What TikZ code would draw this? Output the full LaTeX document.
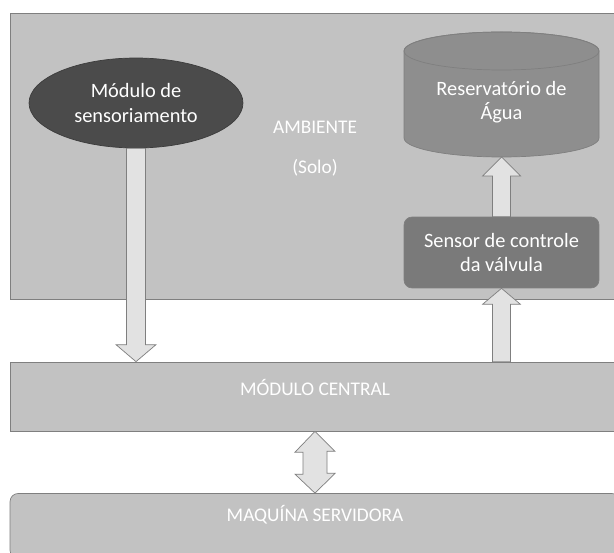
\documentclass[tikz,border=0pt]{standalone}
\usepackage{fontspec}
\setmainfont{Carlito}
\usetikzlibrary{shapes.geometric,calc}
\definecolor{fundo}{HTML}{C2C2C2}
\definecolor{borda}{HTML}{7F7F7F}
\definecolor{escuro}{HTML}{4B4B4B}
\definecolor{medio}{HTML}{8E8E8E}
\definecolor{sensor}{HTML}{7A7A7A}
\definecolor{seta}{HTML}{E2E2E2}
\tikzset{
    caixa/.style={draw=borda, fill=fundo, inner sep=0pt, minimum width=12.2cm},
    txt/.style={text=white, font=\fontsize{11}{13.5}\selectfont, align=center},
    txtg/.style={txt, font=\fontsize{11.6}{14}\selectfont},
    seta/.style={draw=borda, fill=seta, line join=miter},
}
\begin{document}
\begin{tikzpicture}[x=0.02cm, y=-0.02cm]
\useasboundingbox[fill=white] (0,0) rectangle (614,553);
% blocos
\node[caixa, minimum height=5.72cm] (ambiente) at (315,156) {};
\node[caixa, minimum height=1.38cm] (central) at (315,396.5) {};
\node[caixa, rounded corners=0.16cm, minimum height=1.3cm] (servidora) at (315,526) {};
\node[ellipse, fill=escuro, draw=escuro!80!black, minimum width=4.28cm, minimum height=1.8cm, txtg] (modulo) at (136,103) {Módulo de\\sensoriamento};
% reservatorio (cilindro)
\coordinate (rtopo) at (501.5,51);
\coordinate (rbase) at (501.5,138);
\coordinate (reserv) at (501.5,157);
\filldraw[fill=medio, draw=borda] ($(rtopo)+(-97.5,0)$) -- ($(rbase)+(-97.5,0)$)
    arc[start angle=180, end angle=0, x radius=97.5, y radius=19]
    -- ($(rtopo)+(97.5,0)$) arc[start angle=0, end angle=-180, x radius=97.5, y radius=19] -- cycle;
\draw[borda] (rtopo) ellipse[x radius=97.5, y radius=19];
\node[txtg] (resv) at (501.5,102) {Reservatório de\\Água};
\node[rectangle, rounded corners=0.16cm, fill=sensor, draw=borda, minimum width=3.9cm, minimum height=1.42cm, txtg] (valvula) at (501.5,252.5) {Sensor de controle\\da válvula};
% textos
\node[txt] (amb) at (315,127) {AMBIENTE};
\node[txt] (solo) at (315,168) {(Solo)};
\node[txt] (cent) at (315,388) {MÓDULO CENTRAL};
\node[txt] (serv) at (315,515) {MAQUÍNA SERVIDORA};
% setas
\draw[seta] ($(modulo.south)+(-9.5,0)$) -- ($(modulo.south |- central.north)+(-9.5,-17)$)
    -- ($(modulo.south |- central.north)+(-20,-17)$) -- (modulo.south |- central.north)
    -- ($(modulo.south |- central.north)+(20,-17)$) -- ($(modulo.south |- central.north)+(9.5,-17)$)
    -- ($(modulo.south)+(9.5,0)$) -- cycle;
\draw[seta] ($(valvula.south |- central.north)+(-9,0)$) -- ($(valvula.south)+(-9,16)$)
    -- ($(valvula.south)+(-19,16)$) -- (valvula.south)
    -- ($(valvula.south)+(19,16)$) -- ($(valvula.south)+(9,16)$)
    -- ($(valvula.south |- central.north)+(9,0)$) -- cycle;
\draw[seta] ($(valvula.north)+(-9,0)$) -- ($(reserv)+(-9,19)$)
    -- ($(reserv)+(-19,19)$) -- (reserv)
    -- ($(reserv)+(19,19)$) -- ($(reserv)+(9,19)$)
    -- ($(valvula.north)+(9,0)$) -- cycle;
\draw[seta] (central.south) -- ++(20,20) -- ++(-8,0) -- ++(0,22) -- ++(8,0)
    -- (central.south |- servidora.north) -- ++(-20,-19) -- ++(8,0) -- ++(0,-22)
    -- ++(-8,0) -- cycle;
\end{tikzpicture}
\end{document}
